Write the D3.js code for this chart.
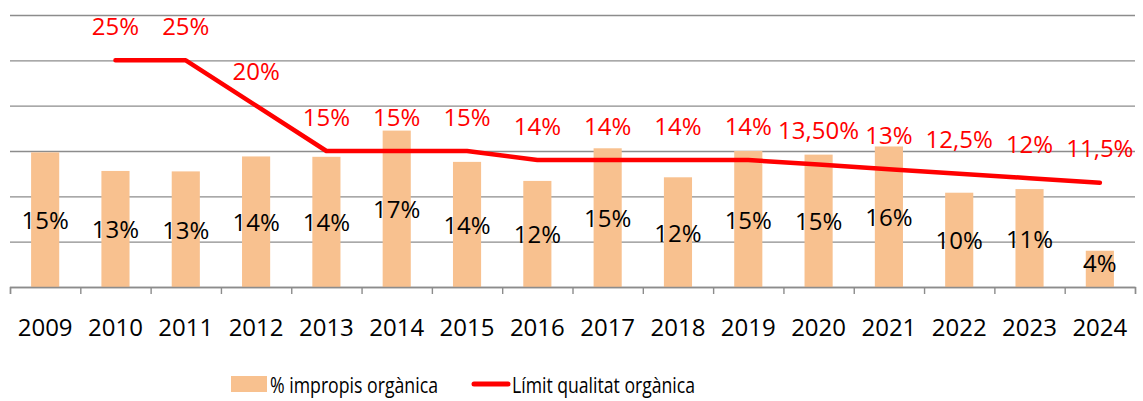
<!DOCTYPE html>
<html lang="ca">
<head>
    <meta charset="UTF-8">
    <title>Impropis orgànica</title>
    <script src="https://cdn.jsdelivr.net/npm/d3@7/dist/d3.min.js"></script>
    <style>
        body { margin: 0; background: #fff; }
        text { font-family: "Open Sans", "Noto Sans", sans-serif; }
    </style>
</head>
<body>
<svg width="1143" height="401"></svg>
<script>
    // dades
    var years = ["2009", "2010", "2011", "2012", "2013", "2014", "2015", "2016",
        "2017", "2018", "2019", "2020", "2021", "2022", "2023", "2024"];
    var impropis = [14.85, 12.8, 12.75, 14.4, 14.36, 17.25, 13.8, 11.7,
        15.3, 12.1, 15.0, 14.6, 15.5, 10.4, 10.8, 4.0];
    var impropisLabels = ["15%", "13%", "13%", "14%", "14%", "17%", "14%", "12%",
        "15%", "12%", "15%", "15%", "16%", "10%", "11%", "4%"];
    // límit: no hi ha valor el 2009
    var limitYears = ["2010", "2011", "2012", "2013", "2014", "2015", "2016",
        "2017", "2018", "2019", "2020", "2021", "2022", "2023", "2024"];
    var limit = [25, 25, 20, 15, 15, 15, 14, 14, 14, 14, 13.5, 13, 12.5, 12, 11.5];
    var limitLabels = ["25%", "25%", "20%", "15%", "15%", "15%", "14%", "14%",
        "14%", "14%", "13,50%", "13%", "12,5%", "12%", "11,5%"];
    var yTicks = [0, 5, 10, 15, 20, 25, 30];

    var svg = d3.select("svg");
    var mLeft = 10, mRight = 1135, mTop = 15, mBottom = 287;

    var x = d3.scaleBand()
        .domain(years)
        .range([mLeft, mRight])
        .paddingInner(0.6)
        .paddingOuter(0.3);
    var xEdges = d3.scaleLinear().domain([0, years.length]).range([mLeft, mRight]);
    var y = d3.scaleLinear().domain([0, 30]).range([mBottom, mTop]);

    // línies de la graella
    var grid = svg.append("g")
        .attr("transform", "translate(" + mLeft + ",0)")
        .call(d3.axisLeft(y).tickValues(yTicks).tickSize(-(mRight - mLeft)).tickFormat(""));
    grid.select(".domain").remove();
    grid.selectAll(".tick line").attr("stroke", "#8c8c8c").attr("stroke-width", 1.4);

    // barres
    svg.append("g").selectAll("rect")
        .data(impropis)
        .enter()
        .append("rect")
        .attr("x", function (d, i) { return x(years[i]); })
        .attr("y", function (d) { return y(d); })
        .attr("width", x.bandwidth())
        .attr("height", function (d) { return mBottom - y(d); })
        .attr("fill", "#f8c18f");

    // eix X
    var xAxis = svg.append("g")
        .attr("transform", "translate(0," + mBottom + ")")
        .call(d3.axisBottom(xEdges).tickValues(d3.range(0, years.length + 1)).tickSize(7).tickFormat(""));
    xAxis.select(".domain").attr("stroke", "#8c8c8c").attr("stroke-width", 1.4);
    xAxis.selectAll(".tick line").attr("stroke", "#8c8c8c").attr("stroke-width", 1.4);

    svg.append("g").selectAll("text")
        .data(years)
        .enter()
        .append("text")
        .attr("x", function (d) { return x(d) + x.bandwidth() / 2; })
        .attr("y", 326)
        .attr("text-anchor", "middle")
        .attr("dominant-baseline", "central")
        .attr("font-size", 24)
        .attr("fill", "#000")
        .text(function (d) { return d; });

    // etiquetes de les barres
    svg.append("g").selectAll("text")
        .data(impropis)
        .enter()
        .append("text")
        .attr("x", function (d, i) { return x(years[i]) + x.bandwidth() / 2; })
        .attr("y", function (d) { return Math.min((y(d) + mBottom) / 2, mBottom - 25); })
        .attr("text-anchor", "middle")
        .attr("dominant-baseline", "central")
        .attr("font-size", 24)
        .attr("fill", "#000")
        .text(function (d, i) { return impropisLabels[i]; });

    // línia del límit
    var line = d3.line()
        .x(function (d, i) { return x(limitYears[i]) + x.bandwidth() / 2; })
        .y(function (d) { return y(d); });
    svg.append("path")
        .datum(limit)
        .attr("d", line)
        .attr("fill", "none")
        .attr("stroke", "#ff0000")
        .attr("stroke-width", 4.5)
        .attr("stroke-linecap", "round")
        .attr("stroke-linejoin", "round");

    svg.append("g").selectAll("text")
        .data(limit)
        .enter()
        .append("text")
        .attr("x", function (d, i) { return x(limitYears[i]) + x.bandwidth() / 2; })
        .attr("y", function (d) { return y(d) - 35; })
        .attr("text-anchor", "middle")
        .attr("dominant-baseline", "central")
        .attr("font-size", 24)
        .attr("fill", "#ff0000")
        .text(function (d, i) { return limitLabels[i]; });

    // llegenda
    var legend = svg.append("g");
    legend.append("rect")
        .attr("x", 231).attr("y", 376).attr("width", 36).attr("height", 16)
        .attr("fill", "#f8c18f");
    legend.append("text")
        .attr("x", 270).attr("y", 384)
        .attr("dominant-baseline", "central")
        .attr("font-size", 22)
        .attr("textLength", 168)
        .attr("lengthAdjust", "spacingAndGlyphs")
        .text("% impropis orgànica");
    legend.append("line")
        .attr("x1", 474).attr("x2", 508).attr("y1", 384).attr("y2", 384)
        .attr("stroke", "#ff0000").attr("stroke-width", 5).attr("stroke-linecap", "round");
    legend.append("text")
        .attr("x", 512).attr("y", 384)
        .attr("dominant-baseline", "central")
        .attr("font-size", 22)
        .attr("textLength", 183)
        .attr("lengthAdjust", "spacingAndGlyphs")
        .text("Límit qualitat orgànica");
</script>
</body>
</html>
